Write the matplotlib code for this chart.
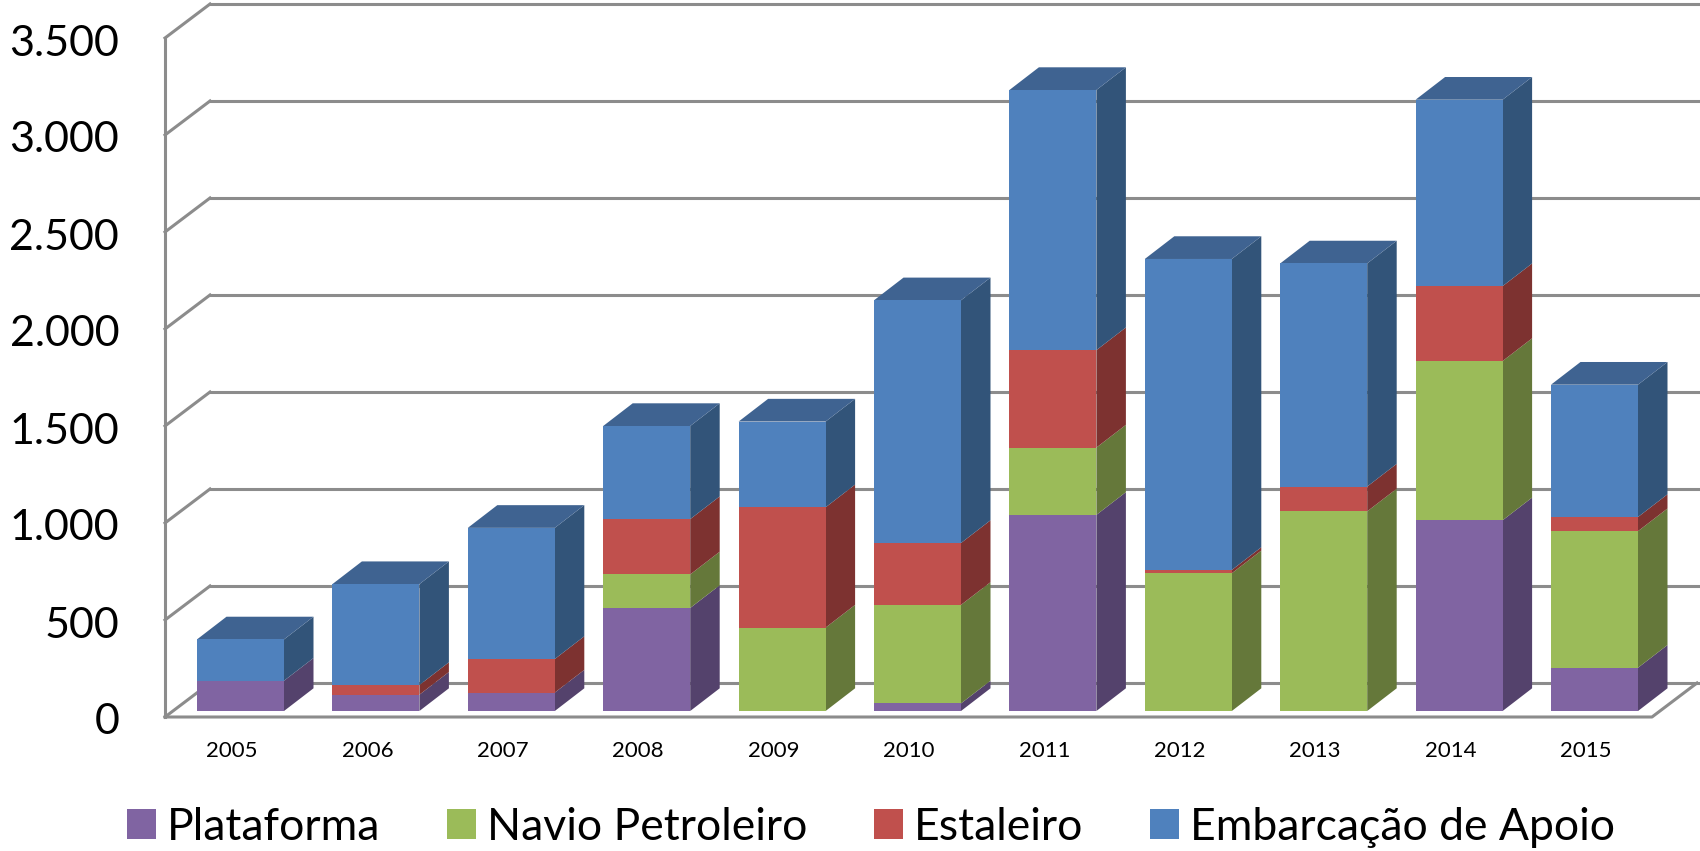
import matplotlib
matplotlib.use("Agg")
import matplotlib.pyplot as plt
from matplotlib.patches import Patch
from matplotlib.transforms import ScaledTranslation

years = ["2005","2006","2007","2008","2009","2010","2011","2012","2013","2014","2015"]
plataforma = [156, 84, 95, 531, 0, 39, 1011, 0, 0, 983, 223]
navio = [0, 0, 0, 173, 430, 508, 347, 710, 1029, 821, 704]
estaleiro = [0, 50, 173, 285, 620, 319, 502, 17, 128, 386, 73]
apoio = [213, 520, 676, 480, 442, 1251, 1341, 1603, 1150, 961, 682]
yticks = [0, 500, 1000, 1500, 2000, 2500, 3000, 3500]
ylabels = ["0", "500", "1.000", "1.500", "2.000", "2.500", "3.000", "3.500"]
names = ["Plataforma", "Navio Petroleiro", "Estaleiro", "Embarcação de Apoio"]
front = ["#8064A2", "#9BBB59", "#C0504D", "#4F81BD"]
side = ["#54426C", "#65783A", "#7D3230", "#325479"]
top_col = "#3F6391"
grid_col = "#8C8C8C"

W, H = 1700, 851
plt.rcParams["font.family"] = ["Lato", "DejaVu Sans"]
fig = plt.figure(figsize=(W/100, H/100), dpi=100)

PX_X = 135.4      # pixels per category
PX_Y = 0.194      # pixels per value unit
X0, Y0 = 240.5, 711
AX_L, AX_B = 165, 717
ax = fig.add_axes([AX_L/W, (H-AX_B)/H, (W-AX_L)/W, AX_B/H])
ax.set_xlim((AX_L-X0)/PX_X, (W-X0)/PX_X)
ax.set_ylim((Y0-AX_B)/PX_Y, Y0/PX_Y)

# wall and floor geometry
wall_x = ax.get_xlim()[0]
wall_dx = 45/PX_X
front_off = (Y0-AX_B)/PX_Y
back_off = (Y0-683)/PX_Y
floor_right = (1652-X0)/PX_X
lw = 2.2
for v in yticks:
    ax.plot([wall_x, wall_x+wall_dx], [v+front_off, v+back_off], color=grid_col, lw=lw, zorder=1, clip_on=False)
    ax.plot([wall_x+wall_dx, ax.get_xlim()[1]], [v+back_off, v+back_off], color=grid_col, lw=lw, zorder=1)
ax.plot([wall_x, wall_x], [front_off, 3500+front_off], color=grid_col, lw=lw, zorder=1, clip_on=False)
ax.plot([wall_x, floor_right, floor_right+wall_dx], [front_off, front_off, back_off], color=grid_col, lw=lw, zorder=1, clip_on=False)

# stacked 3D-look bars
bw = 87/PX_X
dx = 29.5/PX_X
dy = 22.7/PX_Y
xs = list(range(len(years)))
bottoms = [0]*len(years)
for vals, fc, sc, name in zip([plataforma, navio, estaleiro, apoio], front, side, names):
    ax.bar(xs, vals, bw, bottom=bottoms, color=fc, zorder=3, linewidth=0)
    for x, v, b in zip(xs, vals, bottoms):
        if v <= 0:
            continue
        r = x + bw/2
        ax.fill([r, r+dx, r+dx, r], [b, b+dy, b+v+dy, b+v], color=sc, zorder=2, linewidth=0)
    bottoms = [b+v for b, v in zip(bottoms, vals)]
for x, t in zip(xs, bottoms):
    l, r = x-bw/2, x+bw/2
    ax.fill([l, r, r+dx, l+dx], [t, t, t+dy, t+dy], color=top_col, zorder=2, linewidth=0)

for s in ax.spines.values():
    s.set_visible(False)
ax.patch.set_alpha(0)
ax.set_xticks(xs, years)
ax.set_yticks(yticks, ylabels)
ax.tick_params(length=0)
ax.tick_params(axis="x", labelsize=16, pad=17)
ax.tick_params(axis="y", labelsize=31, pad=33)
shift_x = ScaledTranslation(-8.5/100, 0, fig.dpi_scale_trans)
for lab in ax.get_xticklabels():
    lab.set_transform(lab.get_transform() + shift_x)
for lab in ax.get_yticklabels():
    lab.set_transform(lab.get_transform() + ScaledTranslation(0, -8/100, fig.dpi_scale_trans))

handles = [Patch(facecolor=c, label=n) for c, n in zip(front, names)]
fig.legend(handles=handles, loc="center", bbox_to_anchor=(0.5125, 1-827/H), ncol=4, frameon=False,
           fontsize=32, handlelength=0.64, handleheight=0.64, handletextpad=0.26, columnspacing=1.5)
fig.savefig("out.png", dpi=100)
